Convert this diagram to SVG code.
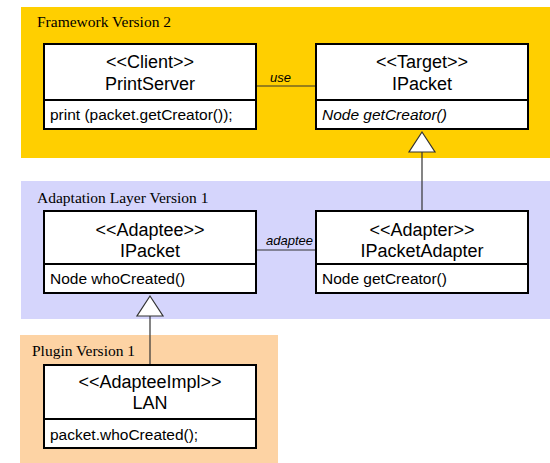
<svg xmlns="http://www.w3.org/2000/svg" width="550" height="463" viewBox="0 0 550 463">
  <style>
    .title { font-family: "Liberation Serif", "Times New Roman", serif; font-size: 15.5px; fill: #000; }
    .box { fill: #fff; stroke: #000; stroke-width: 2; }
    .div { stroke: #000; stroke-width: 2; }
    .hdr { font-family: "Liberation Sans", Arial, sans-serif; font-size: 18px; fill: #000; text-anchor: middle; }
    .op { font-family: "Liberation Sans", Arial, sans-serif; font-size: 15.5px; fill: #000; }
    .abs { font-style: italic; }
    .lbl { font-family: "Liberation Sans", Arial, sans-serif; font-size: 13px; font-style: italic; fill: #000; }
    .edge { stroke: #333; stroke-width: 1.2; fill: none; }
    .tri { fill: #fff; stroke: #333; stroke-width: 1.2; }
  </style>

  <!-- package regions -->
  <g id="framework">
    <rect x="21" y="7" width="529" height="151" fill="#FFCF00"/>
    <text class="title" x="37" y="27">Framework Version 2</text>
  </g>
  <g id="adaptation-layer">
    <rect x="21" y="181" width="529" height="138" fill="#D5D5FC"/>
    <text class="title" x="37" y="203">Adaptation Layer Version 1</text>
  </g>
  <g id="plugin">
    <rect x="20" y="335" width="258" height="128" fill="#FDD3A4"/>
    <text class="title" x="32" y="355.5">Plugin Version 1</text>
  </g>

  <!-- connectors -->
  <g id="connectors">
    <line class="edge" x1="256" y1="86" x2="316" y2="86"/>
    <text class="lbl" x="270" y="82">use</text>
    <line class="edge" x1="256" y1="250" x2="316" y2="250"/>
    <text class="lbl" x="313" y="245" text-anchor="end">adaptee</text>
    <line class="edge" x1="422" y1="152" x2="422" y2="211"/>
    <polygon class="tri" points="422,132 409,152 435,152"/>
    <line class="edge" x1="150" y1="316" x2="150" y2="365"/>
    <polygon class="tri" points="150,296 137,316 163,316"/>
  </g>

  <g id="client">
    <rect class="box" x="44" y="44" width="212" height="85"/>
    <line class="div" x1="44" y1="100" x2="256" y2="100"/>
    <text class="hdr" x="150" y="68">&lt;&lt;Client&gt;&gt;</text>
    <text class="hdr" x="150" y="90">PrintServer</text>
    <text class="op" x="50" y="120">print (packet.getCreator());</text>
  </g>

  <g id="target">
    <rect class="box" x="316" y="44" width="212" height="85"/>
    <line class="div" x1="316" y1="100" x2="528" y2="100"/>
    <text class="hdr" x="422" y="68">&lt;&lt;Target&gt;&gt;</text>
    <text class="hdr" x="422" y="90">IPacket</text>
    <text class="op abs" x="322" y="120">Node getCreator()</text>
  </g>

  <g id="adaptee">
    <rect class="box" x="44" y="211" width="212" height="82"/>
    <line class="div" x1="44" y1="264" x2="256" y2="264"/>
    <text class="hdr" x="150" y="236">&lt;&lt;Adaptee&gt;&gt;</text>
    <text class="hdr" x="150" y="257">IPacket</text>
    <text class="op" x="50" y="284">Node whoCreated()</text>
  </g>

  <g id="adapter">
    <rect class="box" x="316" y="211" width="212" height="82"/>
    <line class="div" x1="316" y1="264" x2="528" y2="264"/>
    <text class="hdr" x="422" y="236">&lt;&lt;Adapter&gt;&gt;</text>
    <text class="hdr" x="422" y="257">IPacketAdapter</text>
    <text class="op" x="322" y="284">Node getCreator()</text>
  </g>

  <g id="lan">
    <rect class="box" x="44" y="365" width="212" height="83"/>
    <line class="div" x1="44" y1="419" x2="256" y2="419"/>
    <text class="hdr" x="150" y="388">&lt;&lt;AdapteeImpl&gt;&gt;</text>
    <text class="hdr" x="150" y="409">LAN</text>
    <text class="op" x="50" y="440">packet.whoCreated();</text>
  </g>
</svg>
